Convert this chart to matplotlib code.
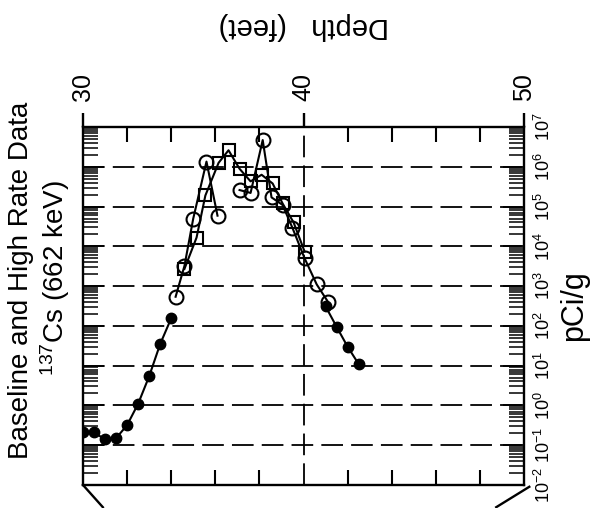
import math
import matplotlib
matplotlib.use("Agg")
import matplotlib.pyplot as plt
from matplotlib.ticker import FixedLocator, LogLocator, NullFormatter, FuncFormatter
from matplotlib.lines import Line2D

plt.rcParams['font.family'] = ['Liberation Sans', 'DejaVu Sans']
plt.rcParams['mathtext.fontset'] = 'custom'
plt.rcParams['mathtext.rm'] = 'Liberation Sans'
plt.rcParams['mathtext.it'] = 'Liberation Sans:italic'
plt.rcParams['mathtext.bf'] = 'Liberation Sans:bold'

# ---- data (depth in feet, activity in pCi/g) ----
base_low_depth = [30.0, 30.5, 31.0, 31.5, 32.0, 32.5, 33.0, 33.5, 34.0]
base_low_val = [0.22, 0.21, 0.14, 0.15, 0.32, 1.1, 5.4, 35, 155]
base_high_depth = [41.0, 41.5, 42.0, 42.5]
base_high_val = [310, 95, 30, 11]

circ_a_depth = [34.2, 34.6, 35.0, 35.6, 36.1]
circ_a_val = [540, 3200, 5.0e4, 1.35e6, 5.9e4]
circ_b_depth = [37.1, 37.6, 38.15, 38.55, 39.05, 39.5, 40.05, 40.6, 41.1]
circ_b_val = [2.6e5, 2.2e5, 4.7e6, 1.7e5, 1.1e5, 2.9e4, 5.0e3, 1.1e3, 410]

sq_depth = [34.6, 35.15, 35.55, 36.15, 36.6, 37.1, 37.6, 38.1, 38.6, 39.05, 39.55, 40.05]
sq_val = [2700, 1.66e4, 1.9e5, 1.26e6, 2.6e6, 8.9e5, 4.3e5, 6.3e5, 3.8e5, 1.2e5, 4.0e4, 7400]

depth_major = [30, 40, 50]
depth_minor = [32, 34, 36, 38, 42, 44, 46, 48]
decades = [-2, -1, 0, 1, 2, 3, 4, 5, 6, 7]
grid_decades = [-1, 0, 1, 2, 3, 4, 5, 6]

title1 = "Baseline and High Rate Data"
title2 = "$^{137}$Cs (662 keV)"
xlabel = "Depth   (feet)"
ylabel = "pCi/g"

fig = plt.figure(figsize=(5.96, 5.08), dpi=100)
ax = fig.add_axes([83/596, 1-485/508, 441/596, 358/508])
ax.set_xlim(30, 50)
ax.set_yscale('log')
ax.set_ylim(1e-2, 1e7)

# grid lines
for d in grid_decades:
    ax.axhline(10.0**d, color='black', lw=1.3, dashes=(12, 4.5), zorder=1)
ax.axvline(40, color='black', lw=1.3, dashes=(12, 4.5), zorder=1)

lw = 1.5
ax.plot(base_low_depth, base_low_val, '-o', color='black', lw=lw, ms=7.5, zorder=3)
ax.plot(base_high_depth, base_high_val, '-o', color='black', lw=lw, ms=7.5, zorder=3)
ax.plot(circ_a_depth, circ_a_val, '-o', color='black', lw=lw, ms=10, mfc='none', mew=1.5, zorder=4)
ax.plot(circ_b_depth, circ_b_val, '-o', color='black', lw=lw, ms=10, mfc='none', mew=1.5, zorder=4)
ax.plot(sq_depth, sq_val, '-s', color='black', lw=lw, ms=9, mfc='none', mew=1.5, zorder=4)

for s in ax.spines.values():
    s.set_linewidth(1.7)

# x axis (depth) on top
ax.xaxis.set_major_locator(FixedLocator(depth_major))
ax.xaxis.set_minor_locator(FixedLocator(depth_minor))
ax.tick_params(axis='x', which='major', top=True, bottom=False, labeltop=True,
               labelbottom=False, direction='out', length=10, width=1.7,
               labelsize=18, labelrotation=90, pad=9)
ax.tick_params(axis='x', which='minor', top=True, bottom=True, direction='in',
               length=11, width=1.5)
ax.xaxis.set_label_position('top')
ax.set_xlabel(xlabel, rotation=180, fontsize=21, labelpad=28)

# y axis (log pCi/g), labels on right
ax.yaxis.set_major_locator(FixedLocator([10.0**d for d in decades]))
ax.yaxis.set_minor_locator(LogLocator(base=10, subs=range(2, 10), numticks=20))
ax.yaxis.set_minor_formatter(NullFormatter())
ax.yaxis.set_major_formatter(FuncFormatter(lambda v, p: r"$\mathregular{10^{%d}}$" % round(math.log10(v))))
ax.tick_params(axis='y', which='major', left=True, right=True, labelleft=False,
               labelright=True, direction='in', length=15, width=1.3,
               labelsize=13, labelrotation=90, pad=7)
ax.tick_params(axis='y', which='minor', left=True, right=True, direction='in',
               length=11, width=1.1)
ax.yaxis.set_label_position('right')
ax.set_ylabel(ylabel, rotation=90, fontsize=22, labelpad=4)
for lab in ax.get_yticklabels():
    lab.set_va('center')

# titles
fig.text(21/596, 1-280/508, title1, rotation=90, fontsize=20, ha='center', va='center')
fig.text(55/596, 1-278/508, title2, rotation=90, fontsize=20, ha='center', va='center')

# frame fragments outside the box
ax.add_line(Line2D([0.0, 0.045], [0.0, -0.062], transform=ax.transAxes, color='black',
                   lw=1.7, clip_on=False))
ax.add_line(Line2D([1.012, 0.937], [-0.005, -0.062], transform=ax.transAxes, color='black',
                   lw=1.7, clip_on=False))

fig.savefig("out.png", dpi=100)
